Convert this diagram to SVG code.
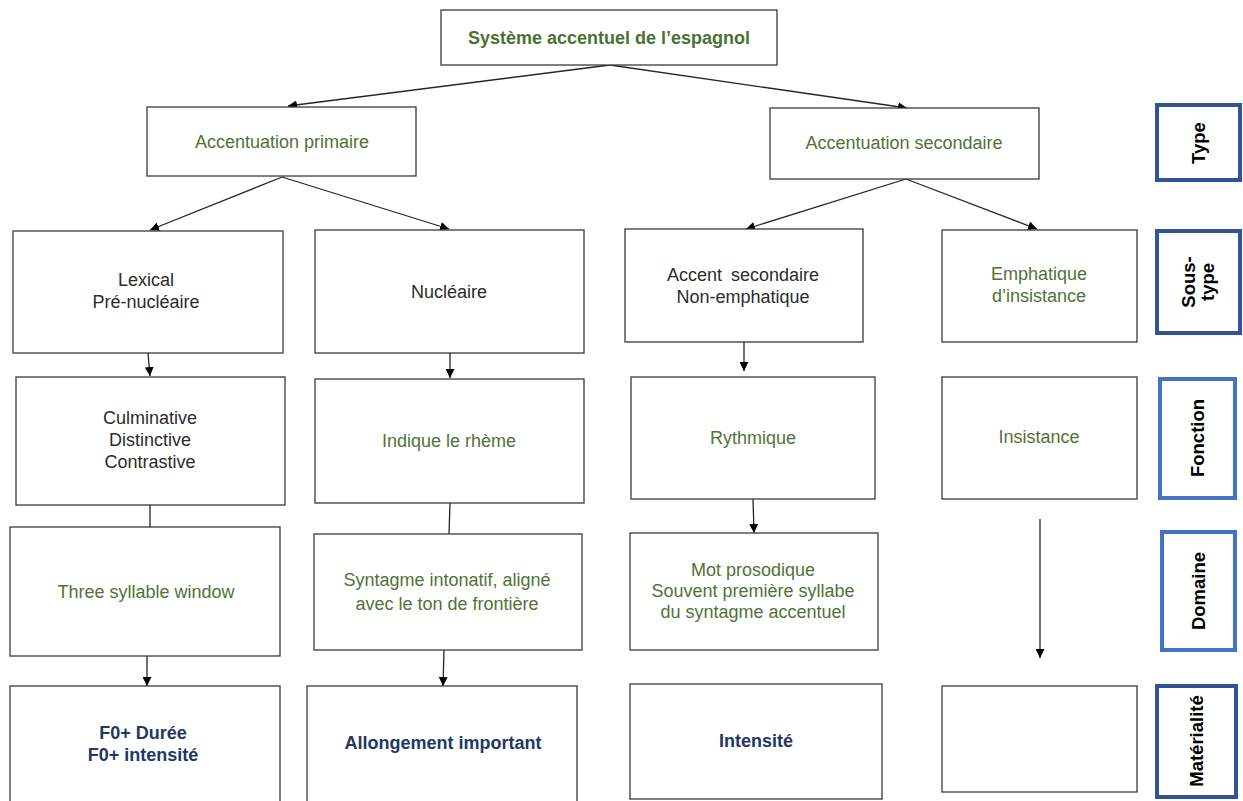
<svg xmlns="http://www.w3.org/2000/svg" width="1243" height="801" viewBox="0 0 1243 801">
  <style>
    .box { fill: #ffffff; stroke: #3a3a3a; stroke-width: 1.3; }
    .tag-dark { fill: #ffffff; stroke: #2F5597; stroke-width: 4; }
    .tag-light { fill: #ffffff; stroke: #4472C4; stroke-width: 4; }
    text { font-family: "Liberation Sans", Arial, sans-serif; font-size: 18px; text-anchor: middle; }
    .plain { fill: #2b2b2b; }
    .green { fill: #4F7336; }
    .title { fill: #4A7230; font-weight: bold; }
    .navy { fill: #1F3866; font-weight: bold; }
    .tag { fill: #000000; font-weight: bold; font-size: 18.5px; }
    .link { stroke: #262626; stroke-width: 1.3; fill: none; }
    .arrow { marker-end: url(#head); }
  </style>
  <defs>
    <marker id="head" viewBox="0 0 10 10" refX="10" refY="5" markerWidth="9" markerHeight="9" markerUnits="userSpaceOnUse" orient="auto">
      <path d="M0,0 L10,5 L0,10 z" fill="#000000"/>
    </marker>
  </defs>

  <rect width="1243" height="801" fill="#ffffff"/>

  <!-- connectors -->
  <g id="connectors">
    <line class="link arrow" x1="610" y1="65" x2="288" y2="106"/>
    <line class="link arrow" x1="610" y1="65" x2="907" y2="108"/>
    <line class="link arrow" x1="282" y1="177" x2="150" y2="230"/>
    <line class="link arrow" x1="282" y1="177" x2="449" y2="229"/>
    <line class="link arrow" x1="906" y1="179" x2="746" y2="229"/>
    <line class="link arrow" x1="906" y1="179" x2="1037" y2="229"/>
    <line class="link arrow" x1="148" y1="353" x2="150" y2="376"/>
    <line class="link" x1="150" y1="505" x2="150" y2="527"/>
    <line class="link arrow" x1="147" y1="656" x2="147" y2="686"/>
    <line class="link arrow" x1="450" y1="353" x2="450" y2="378"/>
    <line class="link" x1="450" y1="503" x2="449" y2="534"/>
    <line class="link arrow" x1="444" y1="650" x2="443" y2="686"/>
    <line class="link arrow" x1="744" y1="342" x2="744" y2="371"/>
    <line class="link arrow" x1="753" y1="499" x2="754" y2="533"/>
    <line class="link arrow" x1="1040" y1="519" x2="1040" y2="658"/>
  </g>

  <!-- root -->
  <g id="root">
    <rect class="box" x="441" y="10" width="336" height="55"/>
    <text class="title" x="609" y="44">Système accentuel de l’espagnol</text>
  </g>

  <!-- types -->
  <g id="primaire">
    <rect class="box" x="147" y="107" width="269" height="69"/>
    <text class="green" x="282" y="148">Accentuation primaire</text>
  </g>
  <g id="secondaire">
    <rect class="box" x="770" y="108" width="269" height="71"/>
    <text class="green" x="904" y="149">Accentuation secondaire</text>
  </g>

  <!-- sub-types -->
  <g id="lexical">
    <rect class="box" x="13" y="231" width="270" height="122"/>
    <text class="plain" x="146" y="286">Lexical</text>
    <text class="plain" x="146" y="308">Pré-nucléaire</text>
  </g>
  <g id="nucleaire">
    <rect class="box" x="315" y="230" width="269" height="123"/>
    <text class="plain" x="449" y="298">Nucléaire</text>
  </g>
  <g id="accent-secondaire">
    <rect class="box" x="625" y="229" width="238" height="113"/>
    <text class="plain" x="743" y="281" word-spacing="4">Accent secondaire</text>
    <text class="plain" x="743" y="303">Non-emphatique</text>
  </g>
  <g id="emphatique">
    <rect class="box" x="942" y="230" width="195" height="112"/>
    <text class="green" x="1039" y="280">Emphatique</text>
    <text class="green" x="1039" y="302">d’insistance</text>
  </g>

  <!-- functions -->
  <g id="culminative">
    <rect class="box" x="16" y="377" width="269" height="128"/>
    <text class="plain" x="150" y="424">Culminative</text>
    <text class="plain" x="150" y="446">Distinctive</text>
    <text class="plain" x="150" y="468">Contrastive</text>
  </g>
  <g id="rheme">
    <rect class="box" x="315" y="379" width="269" height="124"/>
    <text class="green" x="449" y="447">Indique le rhème</text>
  </g>
  <g id="rythmique">
    <rect class="box" x="631" y="377" width="244" height="122"/>
    <text class="green" x="753" y="444">Rythmique</text>
  </g>
  <g id="insistance">
    <rect class="box" x="942" y="377" width="195" height="122"/>
    <text class="green" x="1039" y="443">Insistance</text>
  </g>

  <!-- domains -->
  <g id="three-syllable">
    <rect class="box" x="10" y="527" width="270" height="129"/>
    <text class="green" x="146" y="598">Three syllable window</text>
  </g>
  <g id="syntagme">
    <rect class="box" x="314" y="534" width="268" height="116"/>
    <text class="green" x="447" y="586">Syntagme intonatif, aligné</text>
    <text class="green" x="447" y="610">avec le ton de frontière</text>
  </g>
  <g id="mot-prosodique">
    <rect class="box" x="630" y="533" width="248" height="117"/>
    <text class="green" x="753" y="576">Mot prosodique</text>
    <text class="green" x="753" y="597">Souvent première syllabe</text>
    <text class="green" x="753" y="618">du syntagme accentuel</text>
  </g>

  <!-- materiality -->
  <g id="f0">
    <rect class="box" x="10" y="686" width="270" height="120"/>
    <text class="navy" x="143" y="739">F0+ Durée</text>
    <text class="navy" x="143" y="761">F0+ intensité</text>
  </g>
  <g id="allongement">
    <rect class="box" x="307" y="686" width="270" height="120"/>
    <text class="navy" x="443" y="749">Allongement important</text>
  </g>
  <g id="intensite">
    <rect class="box" x="630" y="684" width="252" height="115"/>
    <text class="navy" x="756" y="747">Intensité</text>
  </g>
  <g id="vide">
    <rect class="box" x="942" y="686" width="195" height="106"/>
  </g>

  <!-- level tags -->
  <g id="tag-type">
    <rect class="tag-dark" x="1157" y="105" width="83" height="75"/>
    <text class="tag" transform="translate(1205,143) rotate(-90)">Type</text>
  </g>
  <g id="tag-sous-type">
    <rect class="tag-dark" x="1157" y="231" width="83" height="102"/>
    <text class="tag" transform="translate(1195,282) rotate(-90)">Sous-</text>
    <text class="tag" transform="translate(1214,282) rotate(-90)">type</text>
  </g>
  <g id="tag-fonction">
    <rect class="tag-light" x="1160" y="379" width="75" height="119"/>
    <text class="tag" transform="translate(1204,438) rotate(-90)">Fonction</text>
  </g>
  <g id="tag-domaine">
    <rect class="tag-light" x="1162" y="532" width="73" height="118"/>
    <text class="tag" transform="translate(1205,591) rotate(-90)">Domaine</text>
  </g>
  <g id="tag-materialite">
    <rect class="tag-dark" x="1157" y="686" width="79" height="111"/>
    <text class="tag" transform="translate(1203,741) rotate(-90)">Matérialité</text>
  </g>
</svg>
